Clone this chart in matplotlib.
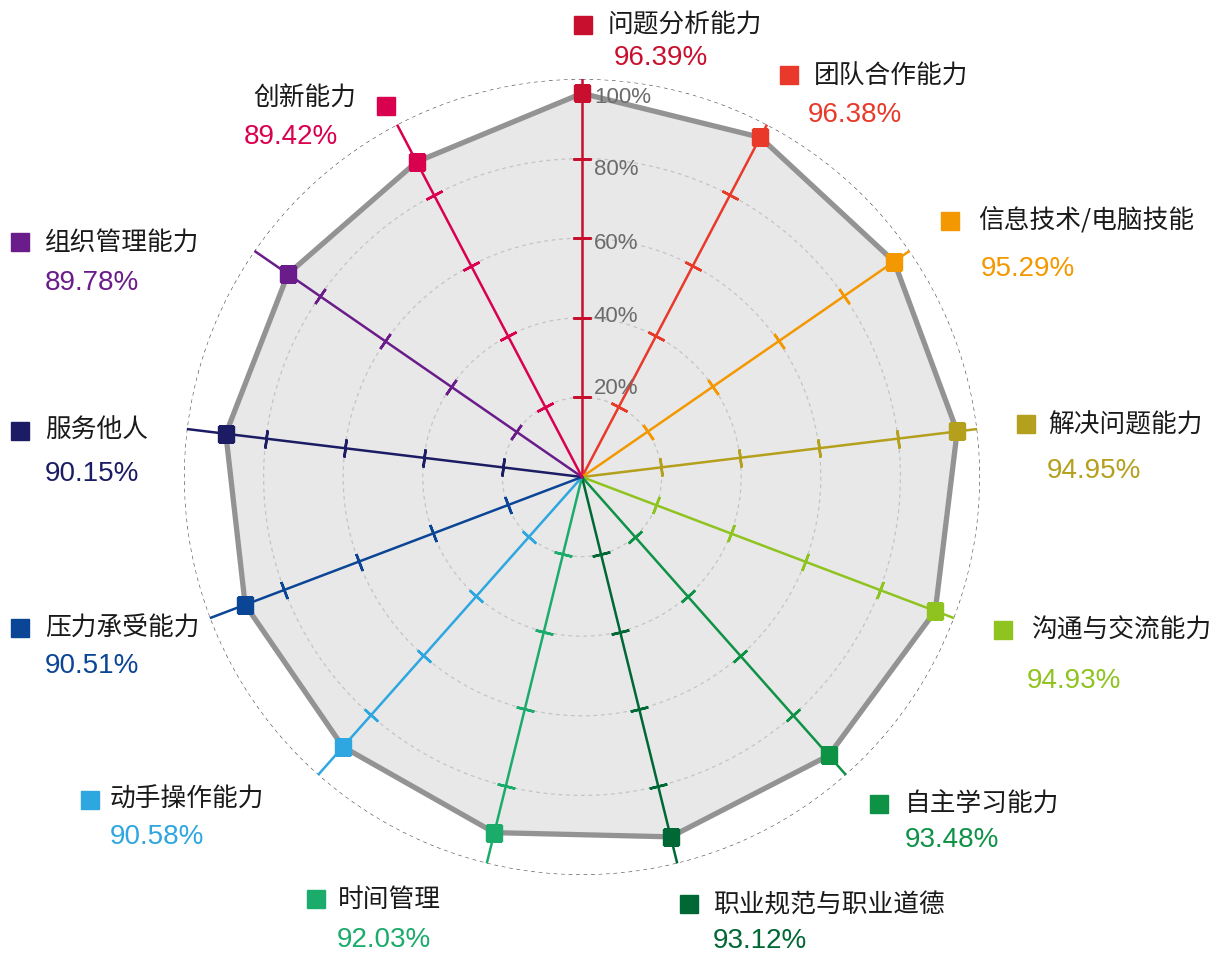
import numpy as np
import matplotlib
matplotlib.use('Agg')
import matplotlib.pyplot as plt
from matplotlib.lines import Line2D

plt.rcParams['font.family'] = ['Noto Sans CJK SC', 'DejaVu Sans']

categories = ['问题分析能力', '团队合作能力', '信息技术/电脑技能', '解决问题能力',
              '沟通与交流能力', '自主学习能力', '职业规范与职业道德', '时间管理',
              '动手操作能力', '压力承受能力', '服务他人', '组织管理能力', '创新能力']
values = [96.39, 96.38, 95.29, 94.95, 94.93, 93.48, 93.12, 92.03,
          90.58, 90.51, 90.15, 89.78, 89.42]
colors = ['#c8102e', '#e8392a', '#f39800', '#b4a01c', '#8fc31f', '#0e9246',
          '#006835', '#1bac6b', '#2ea7e0', '#0b4596', '#1b1c64', '#6a1c8a', '#d9004f']
ring_levels = [20, 40, 60, 80]
ring_labels = ['20%', '40%', '60%', '80%', '100%']

W, H = 1217, 954
cx, cy, R = 582, 478, 398

fig = plt.figure(figsize=(W / 100, H / 100), dpi=100)
ax = fig.add_axes([(cx - R) / W, (H - cy - R) / H, 2 * R / W, 2 * R / H],
                  projection='polar')
ax.set_theta_offset(np.pi / 2)
ax.set_theta_direction(-1)
ax.set_ylim(0, 100)
ax.axis('off')

n = len(categories)
angles = np.arange(n) * 2 * np.pi / n
t = np.linspace(0, 2 * np.pi, 500)

# polygon
a_c = np.append(angles, angles[0])
v_c = np.append(values, values[0])
ax.fill(a_c, v_c, color='#e8e8e8', zorder=1)
ax.plot(a_c, v_c, color='#939393', lw=3.8, zorder=2, solid_joinstyle='miter')

# rings
for r in ring_levels:
    ax.plot(t, np.full_like(t, r), color='#c4c4c4', lw=0.9, ls=(0, (3, 3)), zorder=2)
ax.plot(t, np.full_like(t, 100), color='#555555', lw=0.9, ls=(0, (3, 3)), zorder=2)

# spokes, ticks, value markers
for a, v, c in zip(angles, values, colors):
    deg = np.degrees(a)
    ax.plot([a, a], [0, 100], color=c, lw=1.8, zorder=3)
    ax.plot([a] * len(ring_levels), ring_levels, ls='none',
            marker=(2, 2, 90 - deg), ms=13, mew=1.8, color=c, zorder=3)
    ax.plot([a], [v], marker='s', ms=11, color=c, zorder=5)

# radial labels along the top spoke
for r, lab in zip([22.6, 40.7, 59.0, 77.4, 95.7], ring_labels):
    ax.annotate(lab, xy=(0, r), xytext=(8.5, 0), textcoords='offset points',
                ha='left', va='center', fontsize=16, color='#6b6b6b',
                family='Liberation Sans', zorder=6)

# category labels: square (x, y), name (x, y), percent (x, y) in pixels
label_pos = [
    (583, 26, 608, 25, 614, 58),
    (789, 76, 814, 77, 808, 115),
    (950, 222, 978, 220, 981, 269),
    (1026, 425, 1048, 425, 1047, 471),
    (1003, 631, 1031, 631, 1027, 681),
    (879, 805, 905, 805, 905, 840),
    (689, 905, 713, 905, 713, 941),
    (316, 900, 338, 900, 337, 940),
    (90, 801, 110, 800, 110, 837),
    (20, 629, 45, 629, 45, 666),
    (20, 432, 45, 431, 45, 474),
    (20, 243, 45, 243, 45, 283),
    (386, 107, 253, 99, 244, 137),
]

for cat, v, c, (sx, sy, nx, ny, px, py) in zip(categories, values, colors, label_pos):
    fig.add_artist(Line2D([sx / W], [1 - sy / H], marker='s', ms=12.5, color=c,
                          ls='none', transform=fig.transFigure))
    fig.text(nx / W, 1 - ny / H, cat, fontsize=18.5, color='#1a1a1a',
             ha='left', va='center')
    fig.text(px / W, 1 - py / H, f'{v:.2f}%', fontsize=20, color=c,
             ha='left', va='center', family='Liberation Sans')

fig.savefig('out.png', dpi=100)
